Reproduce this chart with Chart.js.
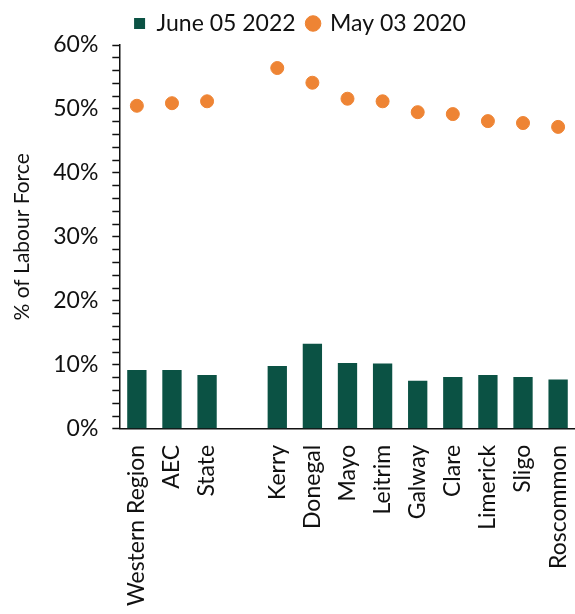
<!DOCTYPE html>
<html><head><meta charset="utf-8">
<script src="https://cdn.jsdelivr.net/npm/chart.js@4"></script>
<style>body{margin:0;background:#fff;overflow:hidden}#wrap{width:594px;height:614px}</style>
</head><body><div id="wrap"><canvas id="c"></canvas></div>
<script>
const categories = ['Western Region', 'AEC', 'State', '', 'Kerry', 'Donegal', 'Mayo', 'Leitrim', 'Galway', 'Clare', 'Limerick', 'Sligo', 'Roscommon'];
const june2022 = [9.2, 9.2, 8.4, null, 9.8, 13.3, 10.3, 10.2, 7.5, 8.1, 8.4, 8.1, 7.7];
const may2020 = [50.5, 50.9, 51.2, null, 56.4, 54.1, 51.6, 51.2, 49.5, 49.2, 48.1, 47.8, 47.2];
const yTicks = [0, 10, 20, 30, 40, 50, 60];

Chart.defaults.font.family = 'Lato, sans-serif';
Chart.defaults.color = '#111';

new Chart(document.getElementById('c').getContext('2d'), {
  data: {
    labels: categories,
    datasets: [
      { type: 'scatter', label: 'May 03 2020', data: may2020, backgroundColor: '#ee8434', borderColor: '#ee8434',
        pointRadius: 6.5, pointHoverRadius: 6.5, pointStyle: 'circle', order: 0 },
      { type: 'bar', label: 'June 05 2022', data: june2022, backgroundColor: '#0b5244',
        categoryPercentage: 1, barPercentage: 0.55, pointStyle: 'rect', order: 1 }
    ]
  },
  options: {
    responsive: true, maintainAspectRatio: false, animation: false,
    layout: { padding: { top: 0, right: 0, left: 6 } },
    plugins: {
      legend: { reverse: true, labels: { usePointStyle: true, boxWidth: 11, boxHeight: 11, font: { size: 23 }, padding: 12 } },
      tooltip: { enabled: false }
    },
    scales: {
      x: { type: 'category', offset: true,
        grid: { display: false }, border: { color: '#111', width: 1.5 },
        ticks: { maxRotation: 90, minRotation: 90, font: { size: 23 }, autoSkip: false, padding: 8 } },
      y: { min: 0, max: 60,
        title: { display: true, text: '% of Labour Force', font: { size: 21 }, padding: { bottom: 4 } },
        grid: { drawOnChartArea: false, tickLength: 7, color: '#111', tickWidth: 1.5 },
        border: { color: '#111', width: 1.5 },
        ticks: { stepSize: 2, autoSkip: false, font: { size: 23 }, padding: 14,
          callback: v => yTicks.includes(v) ? v + '%' : '' } }
    }
  }
});
</script></body></html>
